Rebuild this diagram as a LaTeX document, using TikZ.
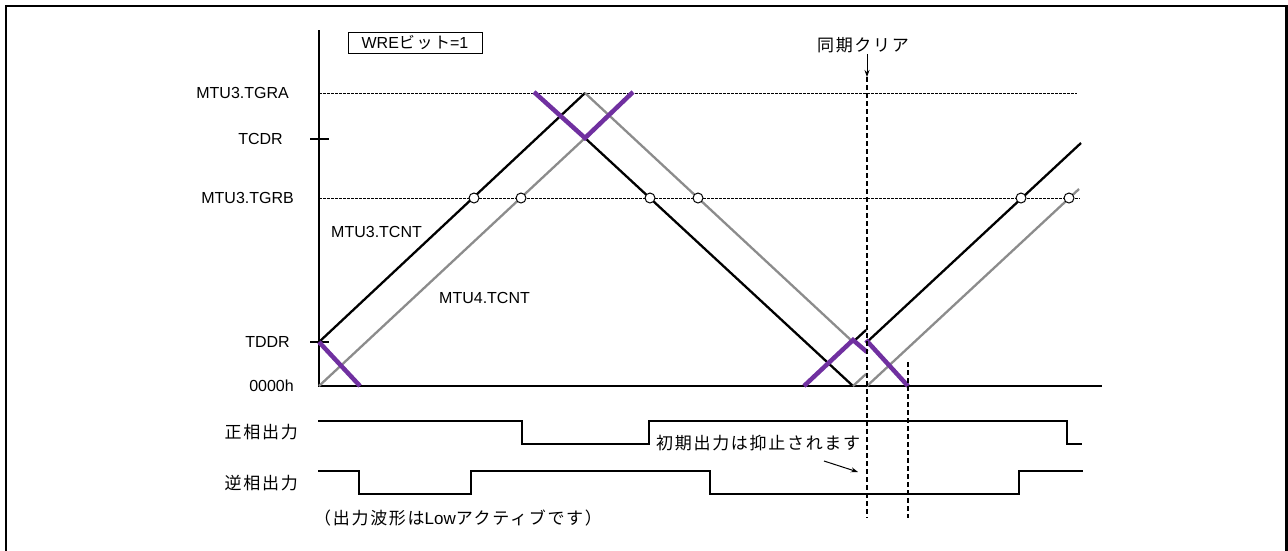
\documentclass[tikz,border=0pt]{standalone}
\usepackage{fontspec}
\setmainfont{Liberation Sans}
\newfontfamily\jp{Noto Sans CJK JP}[LetterSpace=10]
\usetikzlibrary{arrows.meta,positioning}
\definecolor{maskpurple}{HTML}{7030A0}
\definecolor{cntgray}{HTML}{8C8C8C}

\begin{document}
\begin{tikzpicture}[x=1pt,y=-1pt,
  cnt3/.style={line width=2.3pt, black},
  cnt4/.style={line width=2.3pt, cntgray},
  dead/.style={line width=4.5pt, maskpurple},
  lvl/.style={line width=0.9pt, dash pattern=on 2.5pt off 1.5pt},
  sync/.style={line width=1.2pt, dash pattern=on 5pt off 3pt},
  wave/.style={line width=2.5pt},
  hit/.style={circle, draw, fill=white, line width=1pt, inner sep=0pt, minimum size=10pt},
  lbl/.style={font=\fontsize{16}{19}\selectfont, inner sep=1pt},
  jlbl/.style={font=\fontsize{17}{20}\jp, inner sep=1pt}]
\useasboundingbox (0,0) rectangle (1288,550);
% frame
\draw[line width=2.5pt] (6,560) -- (6,6) -- (1286.5,6) -- (1286.5,560);

% axes and levels
\draw[line width=1.3pt] (319,30) -- (319,386) -- (1102,386);
\draw[line width=1.3pt] (310,139) -- (329,139);
\draw[line width=1.3pt] (310,342) -- (329,342);
\draw[lvl] (319,93) -- (1077,93);
\draw[lvl] (319,198) -- (1080,198);

\node[lbl, anchor=east] (tgra) at (290,93) {MTU3.TGRA};
\node[lbl, anchor=east] (tcdr) at (284,139) {TCDR};
\node[lbl, anchor=east] (tgrb) at (295,198) {MTU3.TGRB};
\node[lbl, anchor=east] (tddr) at (291,342) {TDDR};
\node[lbl, anchor=east] (zero) at (295,386) {0000h};

\node[lbl, draw, line width=1pt, minimum width=134pt, minimum height=21pt] (wre) at (415,42.5) {WRE{\jp\fontsize{16}{18}\selectfont ビット}=1};

% counters
\draw[cnt3] (319,342) -- (585,93);
\draw[cnt4] (319,386) -- (585,138);
\draw[cnt3] (585,138) -- (853,386);
\draw[cnt4] (585,93) -- (853,342);
\draw[cnt3] (853,342) -- (866,330);
\draw[cnt4] (853,386) -- (866,374);
\draw[cnt3] (867,342) -- (1081,143);
\draw[cnt4] (867,386) -- (1079,189);

\foreach \cx [count=\i] in {474,521,650,698,1021,1069}
  \node[hit] (cmp\i) at (\cx,198) {};

\node[lbl, anchor=west] (m3) at (330,232) {MTU3.TCNT};
\node[lbl, anchor=west] (m4) at (438,298) {MTU4.TCNT};

% dead time
\draw[dead] (319,342) -- (360,386);
\draw[dead] (534,92) -- (585,138) -- (633,92);
\draw[dead] (804,386) -- (853,340) -- (867,352);
\draw[dead] (866,340) -- (908,386);

% synchronous clear
\node[jlbl] (clr) at (863,45) {同期クリア};
\coordinate (clrtip) at (867,77);
\draw[line width=1pt, -{Stealth[length=7pt,width=5pt]}] ([xshift=4pt]clr.south) -- (clrtip);
\draw[sync] (clrtip) -- (867,518);
\draw[sync] (908,362) -- (908,518);

% outputs
\draw[wave] (318,421) -- (522,421) -- (522,444) -- (649,444) -- (649,421) -- (1067,421) -- (1067,444) -- (1082,444);
\draw[wave] (318,471) -- (359,471) -- (359,494) -- (471,494) -- (471,471) -- (710,471) -- (710,494) -- (1019,494) -- (1019,471) -- (1083,471);
\node[jlbl, anchor=east] (pos) at (299,432) {正相出力};
\node[jlbl, anchor=east] (neg) at (299,483) {逆相出力};
\node[jlbl, anchor=west] (lowact) at (313,518) {（出力波形は{\rmfamily Low}アクティブです）};
\node[jlbl, anchor=west] (supp) at (655,443) {初期出力は抑止されます};
\coordinate (suppfrom) at (824,461);
\coordinate (supptip) at (858,472);
\draw[line width=1pt, -{Stealth[length=7pt,width=5pt]}] (suppfrom) -- (supptip);
\end{tikzpicture}
\end{document}
